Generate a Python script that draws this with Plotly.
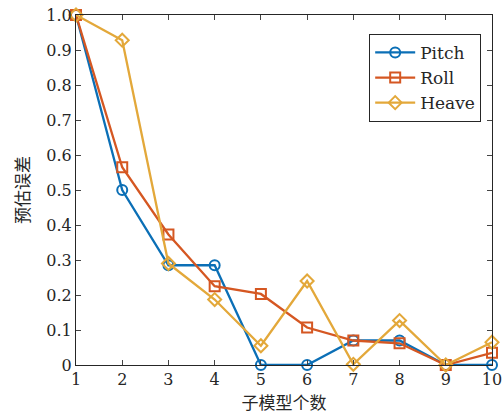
import plotly.graph_objects as go

x_vals = [1, 2, 3, 4, 5, 6, 7, 8, 9, 10]
pitch = [1.0, 0.5, 0.285, 0.285, 0.0, 0.0, 0.07, 0.07, 0.0, 0.0]
roll = [1.0, 0.565, 0.373, 0.225, 0.203, 0.107, 0.07, 0.062, 0.0, 0.035]
heave = [1.0, 0.928, 0.29, 0.187, 0.055, 0.24, 0.002, 0.127, 0.0, 0.065]
y_ticks = [0, 0.1, 0.2, 0.3, 0.4, 0.5, 0.6, 0.7, 0.8, 0.9, 1.0]
y_ticktext = ["0", "0.1", "0.2", "0.3", "0.4", "0.5", "0.6", "0.7", "0.8", "0.9", "1.0"]

series = [
    ("Pitch", pitch, "#0B6FB6", "circle-open"),
    ("Roll", roll, "#D55722", "square-open"),
    ("Heave", heave, "#E3A83A", "diamond-open"),
]

fig = go.Figure()
for name, vals, color, sym in series:
    fig.add_trace(go.Scatter(
        x=x_vals, y=vals, name=name, mode="lines+markers",
        line=dict(color=color, width=2.3),
        marker=dict(symbol=sym, size=10, color=color, line=dict(width=2, color=color)),
        cliponaxis=False,
    ))

serif = "DejaVu Serif"
cjk = "Noto Sans CJK SC"
fig.update_layout(
    width=502, height=417,
    margin=dict(l=76, r=10, t=15, b=52),
    plot_bgcolor="white", paper_bgcolor="white",
    font=dict(family=serif, size=16, color="#262626"),
    showlegend=True,
    legend=dict(x=0.974, y=0.946, xanchor="right", yanchor="top",
                bordercolor="#262626", borderwidth=1, bgcolor="white",
                font=dict(family=serif, size=17, color="#262626"),
                tracegroupgap=0, itemwidth=40),
    xaxis=dict(range=[1, 10], tickvals=x_vals, ticks="inside", ticklen=5,
               showline=True, linecolor="#262626", linewidth=1, mirror="ticks",
               showgrid=False, zeroline=False, automargin=False,
               ticklabeloverflow="allow",
               tickfont=dict(family=serif, size=16, color="#262626"),
               title=dict(text="子模型个数", standoff=0,
                          font=dict(family=cjk, size=17, color="#262626"))),
    yaxis=dict(range=[0, 1], tickvals=y_ticks, ticktext=y_ticktext, ticks="inside", ticklen=5,
               showline=True, linecolor="#262626", linewidth=1, mirror="ticks",
               showgrid=False, zeroline=False, automargin=False,
               ticklabeloverflow="allow",
               tickfont=dict(family=serif, size=16, color="#262626"),
               title=dict(text="预估误差", standoff=12,
                          font=dict(family=cjk, size=17, color="#262626"))),
)

fig.write_html("out.html", config={"displayModeBar": False},
               post_script="document.body.style.margin='0';")
